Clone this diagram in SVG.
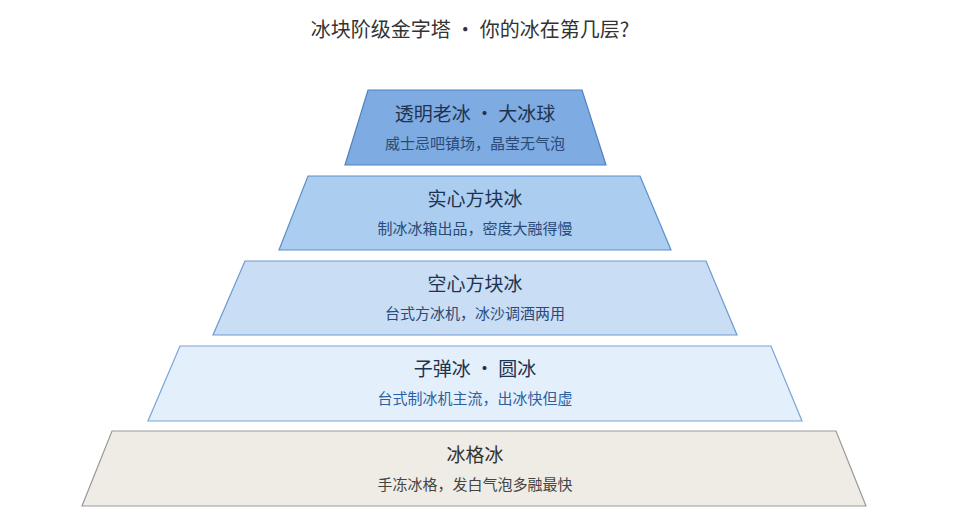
<svg xmlns="http://www.w3.org/2000/svg" width="969" height="519" viewBox="0 0 969 519">
<style>
text{font-family:"Noto Sans CJK SC","Noto Sans",sans-serif;text-anchor:middle}
.t{font-size:19px;fill:#1e3350}
.s{font-size:15px;fill:#2a4a78}
.tier{stroke-width:1.2}
</style>
<rect width="969" height="519" fill="#fff"/>
<text x="470" y="37" style="font-size:20px;fill:#333">冰块阶级金字塔 · 你的冰在第几层?</text>
<g id="tier1"><polygon class="tier" points="368,90 582,90 606,165 345,165" fill="#7eabe2" stroke="#4f82c2"/>
<text class="t" x="475" y="121">透明老冰 · 大冰球</text><text class="s" x="475" y="149">威士忌吧镇场，晶莹无气泡</text></g>
<g id="tier2"><polygon class="tier" points="308,176 640,176 671,250 279,250" fill="#abcdf0" stroke="#5d8fcb"/>
<text class="t" x="475" y="206">实心方块冰</text><text class="s" x="475" y="234">制冰冰箱出品，密度大融得慢</text></g>
<g id="tier3"><polygon class="tier" points="245,261 706,261 737,335 213,335" fill="#c9ddf5" stroke="#6c9ad0"/>
<text class="t" x="475" y="291">空心方块冰</text><text class="s" x="475" y="319">台式方冰机，冰沙调酒两用</text></g>
<g id="tier4"><polygon class="tier" points="180,346 771,346 802,421 148,421" fill="#e3effb" stroke="#7aa5d6"/>
<text class="t" x="475" y="376">子弹冰 · 圆冰</text><text class="s" x="475" y="404" style="fill:#2f5f9f">台式制冰机主流，出冰快但虚</text></g>
<g id="tier5"><polygon class="tier" points="112,431 836,431 866,506 82,506" fill="#efece6" stroke="#999"/>
<text class="t" x="475" y="462" style="fill:#333">冰格冰</text><text class="s" x="475" y="490" style="fill:#444">手冻冰格，发白气泡多融最快</text></g>
<g id="connectors"/>
</svg>
